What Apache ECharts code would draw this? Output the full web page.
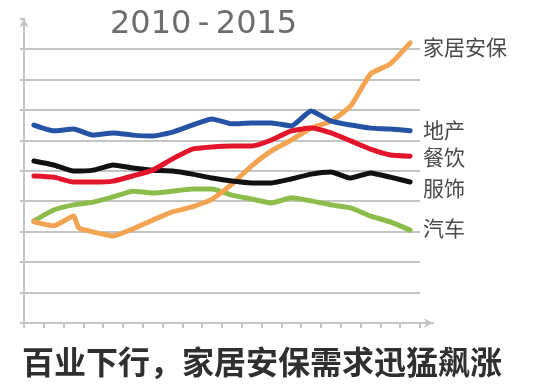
<!DOCTYPE html>
<html><head><meta charset="utf-8">
<script src="https://cdn.jsdelivr.net/npm/echarts@6/dist/echarts.min.js"></script>
<style>html,body{margin:0;padding:0;background:#fff}#c{width:554px;height:390px}</style>
</head><body><div id="c"></div>
<script>
// x positions (value axis, one slot per period, 20 slots)
const xPos = [0.5,1.5,2.5,3.5,4.5,5.5,6.5,7.5,8.5,9.5,10.5,11.5,12.5,13.5,14.5,15.5,16.5,17.5,18.5,19.5];
const xPosHome = [0.5,1.5,2.5,2.77,3.5,4.5,5.5,6.5,7.5,8.5,9.5,10.5,11.5,12.5,13.5,14.5,15.5,16.5,17.5,18.5,19.5];
const seriesNames = ['家居安保','地产','餐饮','服饰','汽车'];
const homeSecurity = [3.32,3.19,3.51,3.12,2.99,2.86,3.09,3.38,3.65,3.81,4.07,4.56,5.16,5.65,6.01,6.40,6.63,7.13,8.18,8.51,9.20];
const realEstate = [6.50,6.31,6.37,6.17,6.24,6.17,6.14,6.27,6.50,6.70,6.54,6.57,6.57,6.47,6.96,6.63,6.50,6.40,6.37,6.31];
const catering = [4.83,4.79,4.63,4.63,4.66,4.83,5.02,5.39,5.71,5.78,5.81,5.81,6.01,6.31,6.40,6.24,5.98,5.71,5.52,5.48];
const apparel = [5.32,5.19,4.99,5.02,5.19,5.09,5.02,4.99,4.89,4.76,4.66,4.60,4.60,4.73,4.89,4.96,4.76,4.93,4.79,4.63];
const auto = [3.35,3.71,3.88,3.97,4.14,4.33,4.27,4.33,4.40,4.40,4.20,4.07,3.94,4.11,4.01,3.88,3.78,3.51,3.32,3.05];
const titleText = '2010\u2009-\u20092015';
const captionText = '百业下行，家居安保需求迅猛飙涨';

const zip = (xs, ys) => xs.map((x, i) => [x, ys[i]]);
const chart = echarts.init(document.getElementById('c'), null, {renderer: 'canvas'});
const axisColor = '#c4c4c4';
const labelStyle = (off) => ({
  show: true, formatter: '{a}', color: '#4a4a4a', fontSize: 21,
  fontFamily: 'Noto Sans CJK SC', distance: 13, offset: off
});
const mk = (name, data, color, off, z) => ({
  name, type: 'line', data, symbol: 'none', smooth: 0.15, z,
  lineStyle: {color, width: 5, cap: 'round', join: 'round'},
  endLabel: labelStyle(off), silent: true, animation: false
});
chart.setOption({
  animation: false,
  title: [
    {text: titleText, left: 110, top: 9, padding: 0,
     textStyle: {fontFamily: 'DejaVu Sans', fontSize: 32, fontWeight: 'normal', color: '#6d6d6d'}},
    {text: captionText, left: 22, top: 346, padding: 0,
     textStyle: {fontFamily: 'Noto Sans CJK SC', fontSize: 32, fontWeight: 'bold', color: '#2f2f2f'}}
  ],
  grid: {left: 24, right: 134, top: 18.5, bottom: 67, containLabel: false},
  xAxis: {
    type: 'value', min: 0, max: 20, interval: 1,
    axisLine: {show: true, lineStyle: {color: axisColor, width: 2}, symbol: ['none', 'arrow'], symbolSize: [7, 9], symbolOffset: [0, 13]},
    axisTick: {show: true, length: 5, lineStyle: {color: axisColor, width: 2}},
    axisLabel: {show: false},
    splitLine: {show: false}
  },
  yAxis: {
    type: 'value', min: 0, max: 10, interval: 1,
    axisLine: {show: true, lineStyle: {color: axisColor, width: 2}, symbol: ['none', 'arrow'], symbolSize: [7, 9]},
    axisTick: {show: true, length: 4, lineStyle: {color: axisColor, width: 2}},
    axisLabel: {show: false},
    splitLine: {show: true, showMinLine: false, showMaxLine: false, lineStyle: {color: axisColor, width: 2}}
  },
  graphic: [{type: 'line', shape: {x1: 420, y1: 323, x2: 434, y2: 323}, style: {stroke: axisColor, lineWidth: 2}, silent: true}],
  series: [
    mk(seriesNames[4], zip(xPos, auto), '#8cbd4b', [0, -2], 2),
    mk(seriesNames[0], zip(xPosHome, homeSecurity), '#f2a452', [0, 4], 3),
    mk(seriesNames[3], zip(xPos, apparel), '#111111', [0, 6], 4),
    mk(seriesNames[2], zip(xPos, catering), '#e2152b', [0, 1], 5),
    mk(seriesNames[1], zip(xPos, realEstate), '#2453a6', [0, -1], 6)
  ]
});
</script></body></html>
